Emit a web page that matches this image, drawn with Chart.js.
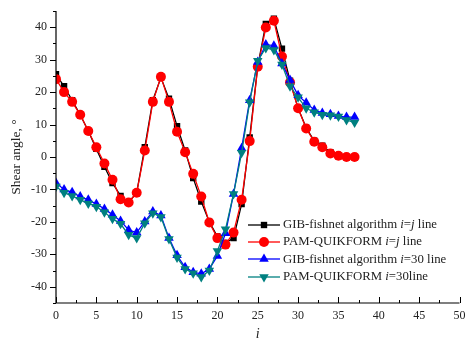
<!DOCTYPE html>
<html lang="en">
<head>
  <meta charset="UTF-8" />
  <title>Shear angle</title>
  <script src="https://cdn.jsdelivr.net/npm/chart.js"></script>
  <style>
    html, body { margin: 0; padding: 0; background: #fff; }
    .wrap { position: relative; width: 465px; height: 342px; }
    #legend { position: absolute; left: 247px; top: 216px; font-family: "Liberation Serif", "DejaVu Serif", serif; font-size: 12.8px; color: #222; }
    #legend .row { height: 17.3px; line-height: 17.3px; white-space: nowrap; display: flex; align-items: center; }
    #legend canvas { margin-right: 2px; }
    #legend i { font-style: italic; }
  </style>
</head>
<body>
  <div class="wrap">
    <canvas id="shearChart" width="465" height="342"></canvas>
    <div id="legend"></div>
  </div>

  <script>
    // node index i
    const nodes = [0,1,2,3,4,5,6,7,8,9,10,11,12,13,14,15,16,17,18,19,20,21,22,23,24,25,26,27,28,29,30,31,32,33,34,35,36,37];

    const gibDiag = [25.5, 21.8, 17.5, 13, 8, 2.5, -3, -8, -12, -14, -11, 3, 17.5, 24.5, 18, 9.5, 2, -6.5, -13.7, -20, -24.5, -26.5, -25, -14.5, 6, 28, 41, 42.6, 33.4, 23.5, 15, 9, 5, 3.5, 1.5, 0.5, 0, 0];
    const pamDiag = [24, 20, 17, 13, 8, 3, -2, -7, -13, -14, -11, 2, 17, 24.7, 17, 7.8, 1.5, -5.2, -12.2, -20.2, -25, -27, -23.3, -13.2, 4.9, 27.8, 39.9, 42, 31, 23, 15, 8.8, 4.7, 3, 1.1, 0.4, 0, 0];
    const gib30 = [-8, -10, -10.9, -12.2, -13.2, -14.5, -16, -17.8, -19.7, -22.5, -23.3, -19.9, -16.8, -18, -25, -30.3, -34, -35.5, -36, -34.5, -30.5, -23.5, -11.4, 2.7, 17.5, 29.3, 34.7, 34.3, 28.8, 23.7, 19, 16.7, 14.5, 13.6, 13.2, 12.6, 12.3, 12.3];
    const pam30 = [-9.1, -11, -12, -13.2, -14.3, -15.3, -17, -19, -20.6, -24, -25, -20.4, -17.3, -18.5, -25.3, -31, -34.5, -35.8, -37, -35, -29, -22.3, -11.4, 1.3, 16.9, 29.7, 33.6, 33, 28.5, 21.8, 18.4, 15, 13.8, 13, 12.9, 12.5, 11.4, 10.6];

    const xTicks = [0, 5, 10, 15, 20, 25, 30, 35, 40, 45, 50];
    const yTicks = [-40, -30, -20, -10, 0, 10, 20, 30, 40];

    const serif = '"Liberation Serif", "DejaVu Serif", serif';

    const series = [
      { label: ['GIB-fishnet algorithm ', ['i'], '=', ['j'], ' line'], data: gibDiag, color: '#000000', point: 'rect', radius: 4.5, order: 4 },
      { label: ['PAM-QUIKFORM ', ['i'], '=', ['j'], ' line'], data: pamDiag, color: '#ff0000', point: 'circle', radius: 5, order: 3 },
      { label: ['GIB-fishnet algorithm ', ['i'], '=30 line'], data: gib30, color: '#0000ff', point: 'triangle', radius: 5.5, order: 2 },
      { label: ['PAM-QUIKFORM ', ['i'], '=30line'], data: pam30, color: '#008080', point: 'triangle', rotation: 180, radius: 5.5, order: 1 }
    ];

    const datasets = series.map(s => ({
      label: s.label.map(p => Array.isArray(p) ? p[0] : p).join(''),
      data: nodes.map((n, k) => ({ x: n, y: s.data[k] })),
      borderColor: s.color,
      backgroundColor: s.color,
      borderWidth: 1.3,
      pointStyle: s.point,
      pointRadius: s.radius,
      pointRotation: s.rotation || 0,
      pointBorderWidth: 0,
      pointHoverRadius: s.radius,
      tension: 0,
      order: s.order
    }));

    // axis ticks drawn by hand: y ticks outward, x ticks inward, minor in between
    const axisTicks = {
      id: 'axisTicks',
      afterDraw(chart) {
        const ctx = chart.ctx;
        const x = chart.scales.x, y = chart.scales.y;
        const area = chart.chartArea;
        ctx.save();
        ctx.strokeStyle = '#000';
        ctx.lineWidth = 1.2;
        ctx.beginPath();
        ctx.moveTo(area.left, area.top);
        ctx.lineTo(area.left, area.bottom);
        ctx.lineTo(area.right, area.bottom);
        ctx.stroke();
        ctx.lineWidth = 1;
        for (let v = -45; v <= 45; v += 5) {
          const py = Math.round(y.getPixelForValue(v)) + 0.5;
          const len = v % 10 === 0 ? 6 : 3;
          ctx.beginPath();
          ctx.moveTo(area.left - len, py);
          ctx.lineTo(area.left, py);
          ctx.stroke();
        }
        for (let v = 0; v <= 50; v += 2.5) {
          const px = Math.round(x.getPixelForValue(v)) + 0.5;
          const len = v % 5 === 0 ? 6 : 3;
          ctx.beginPath();
          ctx.moveTo(px, area.bottom);
          ctx.lineTo(px, area.bottom - len);
          ctx.stroke();
        }
        ctx.restore();
      }
    };

    const ctx = document.getElementById('shearChart').getContext('2d');
    new Chart(ctx, {
      type: 'line',
      data: { datasets: datasets },
      options: {
        responsive: false,
        animation: false,
        layout: { padding: { left: 0, top: 11, right: 4, bottom: 0 } },
        plugins: {
          legend: { display: false },
          tooltip: { enabled: false }
        },
        scales: {
          x: {
            type: 'linear',
            min: 0, max: 50,
            afterBuildTicks: s => { s.ticks = xTicks.map(v => ({ value: v })); },
            afterFit: s => { s.height = 39; s.paddingLeft = 0; s.paddingRight = 0; },
            grid: { display: false, drawTicks: false },
            border: { display: false },
            ticks: { color: '#222', font: { family: serif, size: 12 }, padding: 6, maxRotation: 0 },
            title: { display: true, text: 'i', color: '#222', font: { family: serif, size: 14, style: 'italic' }, padding: { top: 0, bottom: -1 } }
          },
          y: {
            min: -45, max: 45,
            afterBuildTicks: s => { s.ticks = yTicks.map(v => ({ value: v })); },
            afterFit: s => { s.width = 56; s.paddingTop = 0; s.paddingBottom = 0; },
            grid: { display: false, drawTicks: false },
            border: { display: false },
            ticks: { color: '#222', font: { family: serif, size: 12 }, padding: 9 },
            title: { display: true, text: 'Shear angle, °', color: '#222', font: { family: serif, size: 13.5 }, padding: { top: 8, bottom: 0 } }
          }
        }
      },
      plugins: [axisTicks]
    });

    // legend with italic i / j
    function marker(s) {
      const c = document.createElement('canvas');
      c.width = 34; c.height = 14;
      const g = c.getContext('2d');
      g.strokeStyle = s.color; g.fillStyle = s.color; g.lineWidth = 1.3;
      g.beginPath(); g.moveTo(1, 7); g.lineTo(33, 7); g.stroke();
      Chart.helpers.drawPoint(g, { pointStyle: s.point, radius: s.radius, rotation: s.rotation || 0, borderWidth: 0 }, 17, 7);
      return c;
    }
    const legend = document.getElementById('legend');
    series.forEach(s => {
      const row = document.createElement('div');
      row.className = 'row';
      row.appendChild(marker(s));
      const span = document.createElement('span');
      s.label.forEach(p => {
        if (Array.isArray(p)) {
          const it = document.createElement('i');
          it.textContent = p[0];
          span.appendChild(it);
        } else {
          span.appendChild(document.createTextNode(p));
        }
      });
      row.appendChild(span);
      legend.appendChild(row);
    });
  </script>
</body>
</html>
